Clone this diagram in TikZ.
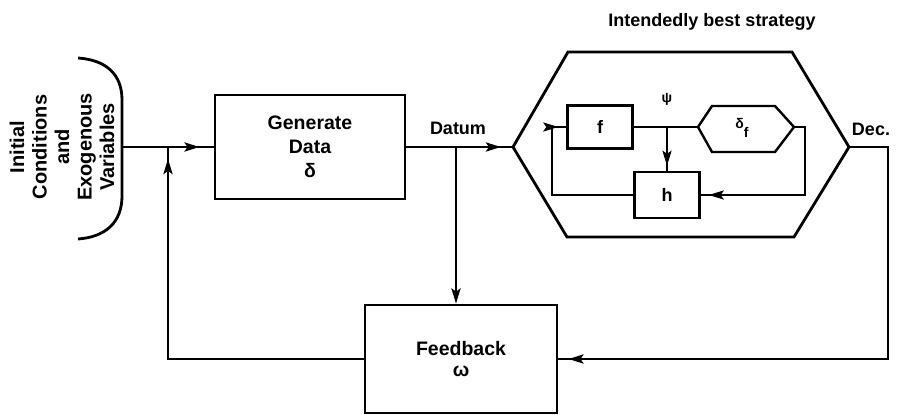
\documentclass[tikz,border=0pt]{standalone}
\usepackage{fontspec}
\setmainfont{Liberation Sans}
\usetikzlibrary{arrows.meta}
\begin{document}
\begin{tikzpicture}[x=1pt,y=-1pt,
  line width=2.8pt,
  arr/.style={-{Stealth[length=15pt,width=9pt,inset=3pt]}},
  box/.style={draw,rectangle,inner sep=0pt,align=center},
  big/.style={font=\fontsize{19.5}{24}\selectfont\bfseries},
  mid/.style={font=\fontsize{18}{22}\selectfont\bfseries},
  small/.style={font=\fontsize{18}{20}\selectfont\bfseries},
  tiny/.style={font=\fontsize{14}{16}\selectfont\bfseries}]
\useasboundingbox (0,0) rectangle (903,415);
% source
\node[rotate=90, align=center, font=\fontsize{20}{22.5}\selectfont\bfseries] (srctext) at (62,147)
  {Initial\\Conditions\\and\\Exogenous\\Variables};
\draw (78,58) .. controls (106,60) and (122,74) .. (122,100) -- (122,196)
  .. controls (122,222) and (106,237) .. (78,239);
\coordinate (src) at (122,147);
% generate data
\node[box, big, minimum width=190pt, minimum height=104pt] (gen) at (310,147)
  {Generate\\Data\\δ};
% big hexagon
\coordinate (hexL) at (513,147);
\coordinate (hexR) at (849,147);
\draw (hexL) -- (568,52) -- (792,52) -- (hexR) -- (794,237) -- (567,237) -- cycle;
\node[mid] (title) at (712,22) {Intendedly best strategy};
% inner
\begin{scope}[line width=2.4pt]
\node[box, small, minimum width=65pt, minimum height=43pt] (f) at (600,127) {f};
\node[box, small, minimum width=65pt, minimum height=46pt] (h) at (667,195) {h};
\coordinate (dfL) at (698,127);
\coordinate (dfR) at (794,127);
\draw (dfL) -- (712,106) -- (775,106) -- (dfR) -- (775,152) -- (712,152) -- cycle;
\end{scope}
\node[tiny] (df) at (742,128) {δ\raisebox{-1.2ex}{f}};
\coordinate (psi) at (667,127);
\node[tiny] (psil) at (667,99) {ψ};
% feedback
\node[box, big, minimum width=192pt, minimum height=108pt,
  font=\fontsize{19.5}{21}\selectfont\bfseries] (fb) at (461,359)
  {\raisebox{0pt}{Feedback}\\ω};
% labels
\node[mid] (datum) at (458,128) {Datum};
\node[mid] (dec) at (871,129) {Dec.};
% connectors main
\draw (src) -- (gen.west);
\draw[arr, shorten >=14pt] (src) -- (gen.west);
\coordinate (j1) at (168,147);
\coordinate (fbl) at (168,359);
\draw (fb.west) -- (fbl) -- (j1);
\draw[arr, shorten >=12pt] (fbl) -- (j1);
\coordinate (dd) at (456,147);
\draw (gen.east) -- (hexL);
\draw[arr, shorten >=12pt] (gen.east) -- (hexL);
\draw[arr] (dd) -- (dd |- fb.north);
\coordinate (decA) at (888,147);
\coordinate (decB) at (888,359);
\draw (hexR) -- (decA) -- (decB) -- (fb.east);
\draw[arr] (decB) -- ([xshift=10pt]fb.east);
% inner connectors
\begin{scope}[line width=2.4pt]
\draw (f.east) -- (dfL);
\draw[arr, shorten >=5pt] (psi) -- (psi |- h.north);
\draw (psi) -- (psi |- h.north);
\coordinate (r1) at (805,127);
\coordinate (r2) at (805,195);
\draw (dfR) -- (r1) -- (r2) -- (h.east);
\draw[arr] (r2) -- ([xshift=8pt]h.east);
\coordinate (l1) at (552,195);
\coordinate (l2) at (552,127);
\draw (h.west) -- (l1) -- (l2) -- (f.west);
\draw[arr, shorten >=8pt] (l2) -- (f.west);
\end{scope}
\end{tikzpicture}
\end{document}
